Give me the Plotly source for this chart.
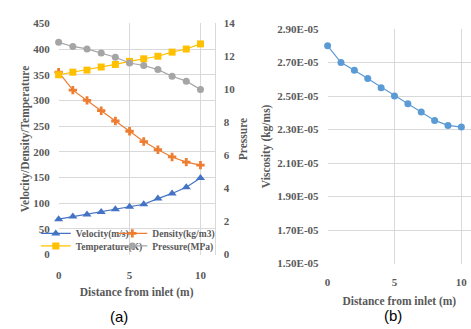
import plotly.graph_objects as go

# ---- data ----
distance = [0, 1, 2, 3, 4, 5, 6, 7, 8, 9, 10]
velocity = [69, 74, 78, 83, 88, 93, 98, 109, 119, 131, 149]
density = [355, 320, 300, 280, 260, 240, 220, 204, 190, 180, 174]
temperature = [350, 355, 359, 365, 370, 376, 381, 386, 394, 400, 410]
pressure = [12.85, 12.6, 12.45, 12.2, 11.95, 11.6, 11.45, 11.2, 10.8, 10.5, 10.0]
viscosity = [2.80e-5, 2.70e-5, 2.655e-5, 2.605e-5, 2.55e-5, 2.50e-5,
             2.455e-5, 2.405e-5, 2.355e-5, 2.325e-5, 2.315e-5]
visc_ticks = [1.5e-5, 1.7e-5, 1.9e-5, 2.1e-5, 2.3e-5, 2.5e-5, 2.7e-5, 2.9e-5]

SERIF = "Times New Roman, Liberation Serif, serif"
TICKC = "#595959"
GRID = "#D9D9D9"
W, H = 471, 329

fig = go.Figure()

def add(y, name, color, symbol, size, axis="y", legend="legend"):
    fig.add_trace(go.Scatter(
        x=distance, y=y, name=name, mode="lines+markers",
        line=dict(color=color, width=1.2),
        marker=dict(color=color, symbol=symbol, size=size),
        xaxis="x", yaxis=axis, legend=legend, cliponaxis=False))

add(velocity, "Velocity(m/s)", "#4472C4", "triangle-up", 8, legend="legend")
add(density, "Density(kg/m3)", "#ED7D31", "cross", 7, legend="legend2")
add(temperature, "Temperature(K)", "#FFC000", "square", 7, legend="legend3")
add(pressure, "Pressure(MPa)", "#A5A5A5", "circle", 7, axis="y2", legend="legend4")

fig.add_trace(go.Scatter(
    x=distance, y=viscosity, mode="lines+markers", showlegend=False,
    line=dict(color="#5B9BD5", width=1.2),
    marker=dict(color="#5B9BD5", size=7), cliponaxis=False,
    xaxis="x3", yaxis="y3"))

tickfont = dict(family=SERIF, size=11, color=TICKC, weight="bold")
titlefont = dict(family=SERIF, size=11.5, color=TICKC, weight="bold")
legfont = dict(family=SERIF, size=9.5, color=TICKC, weight="bold")

# left chart domain
lx0, lx1 = 56 / W, 213 / W
ly0, ly1 = 1 - 258 / H, 1 - 18 / H
# right chart domain
rx0, rx1 = 326.7 / W, 1.0
ry0, ry1 = 1 - 267.3 / H, 1 - 24 / H

leg_common = dict(orientation="h", xanchor="left", yanchor="middle",
                  font=legfont, bgcolor="rgba(255,255,255,0)", itemwidth=30)

fig.update_layout(
    width=W, height=H,
    margin=dict(l=0, r=0, t=0, b=0),
    paper_bgcolor="white", plot_bgcolor="white",
    showlegend=True,
    legend=dict(x=33 / W, y=1 - 236 / H, **leg_common),
    legend2=dict(x=110 / W, y=1 - 236 / H, **leg_common),
    legend3=dict(x=33 / W, y=1 - 249 / H, **leg_common),
    legend4=dict(x=110 / W, y=1 - 249 / H, **leg_common),
    xaxis=dict(domain=[lx0, lx1], range=[0, 11], dtick=5, tick0=0,
               showgrid=True, gridcolor=GRID, zeroline=False, showline=False,
               tickfont=tickfont, ticks="", ticklabelstandoff=12,
               title=dict(text="Distance from inlet (m)", font=titlefont, standoff=8),
               anchor="y"),
    yaxis=dict(domain=[ly0, ly1], range=[0, 450], dtick=50,
               showgrid=True, gridcolor=GRID, zeroline=False, showline=False,
               tickfont=tickfont, ticks="", ticklabelstandoff=8,
               title=dict(text="Velocity/Density/Temperature", font=titlefont, standoff=1),
               anchor="x"),
    yaxis2=dict(overlaying="y", side="right", range=[0, 14], dtick=2,
                showgrid=False, zeroline=False, showline=True, linecolor=GRID,
                tickfont=tickfont, ticks="", ticklabelstandoff=6,
                title=dict(text="Pressure", font=titlefont, standoff=4),
                anchor="x"),
    xaxis3=dict(domain=[rx0, rx1], range=[0, 10.72], dtick=5, tick0=0,
                showgrid=True, gridcolor=GRID, zeroline=False, showline=False,
                tickfont=tickfont, ticks="", ticklabelstandoff=10,
                title=dict(text="Distance from inlet (m)", font=titlefont, standoff=10),
                anchor="y3"),
    yaxis3=dict(domain=[ry0, ry1], range=[1.5e-5, 2.9e-5],
                tickvals=visc_ticks, ticktext=[f"{v:.2E}" for v in visc_ticks],
                showgrid=True, gridcolor=GRID, zeroline=False, showline=False,
                tickfont=tickfont, ticks="", ticklabelstandoff=8,
                title=dict(text="Viscosity (kg/ms)", font=titlefont, standoff=4),
                anchor="x3"),
    annotations=[
        dict(text="(a)", x=117 / W, y=1 - 322 / H, xref="paper", yref="paper",
             xanchor="center", yanchor="middle",
             showarrow=False, font=dict(family="Liberation Sans", size=15, color="black")),
        dict(text="(b)", x=392 / W, y=1 - 321 / H, xref="paper", yref="paper",
             xanchor="center", yanchor="middle",
             showarrow=False, font=dict(family="Liberation Sans", size=15, color="black")),
    ],
)

fig.write_html("out.html")
